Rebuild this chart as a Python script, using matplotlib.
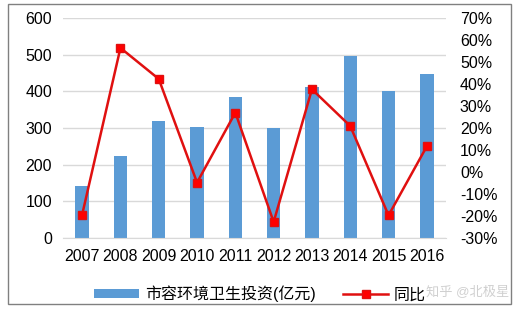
import numpy as np
import matplotlib.pyplot as plt
from matplotlib.patches import Rectangle

plt.rcParams['font.family'] = ['Liberation Sans', 'Noto Sans CJK SC', 'DejaVu Sans']

years = ['2007', '2008', '2009', '2010', '2011', '2012', '2013', '2014', '2015', '2016']
invest = [143, 224, 318, 303, 385, 299, 411, 496, 400, 446]
yoy = [-19.4, 56.4, 42.3, -4.8, 27.0, -22.7, 37.6, 20.9, -19.7, 11.7]

fig = plt.figure(figsize=(5.22, 3.09), dpi=100)
ax = fig.add_axes([63/522, 1-238/309, 383/522, 220/309])
x = np.arange(len(years))

ax.bar(x, invest, width=0.35, color='#5B9BD5', zorder=2, label='市容环境卫生投资(亿元)')
ax.set_ylim(0, 600)
ax.set_xlim(-0.5, 9.5)
ax.set_yticks(range(0, 601, 100))
ax.set_xticks(x)
ax.set_xticklabels(years)
ax.grid(axis='y', color='#D9D9D9', linewidth=1, zorder=0)
ax.set_axisbelow(True)
for s in ax.spines.values():
    s.set_visible(False)
ax.spines['bottom'].set_visible(True)
ax.spines['bottom'].set_color('#D9D9D9')
ax.tick_params(length=0, labelsize=11.5, pad=8)

ax2 = ax.twinx()
ax2.plot(x, yoy, color='#E01010', linewidth=1.8, marker='s', markersize=6,
         markerfacecolor='#FF0000', markeredgecolor='#E01010', zorder=3, label='同比')
ax2.set_ylim(-30, 70)
ax2.set_yticks(range(-30, 71, 10))
ax2.set_yticklabels([f'{v}%' for v in range(-30, 71, 10)])
for s in ax2.spines.values():
    s.set_visible(False)
ax2.tick_params(length=0, labelsize=11.5, pad=10)

h1, l1 = ax.get_legend_handles_labels()
h2, l2 = ax2.get_legend_handles_labels()
fig.legend(h1 + h2, l1 + l2, loc='center', bbox_to_anchor=(260/522, 1-294/309), ncol=2,
           frameon=False, fontsize=11.5, handlelength=2.8, handletextpad=0.35,
           columnspacing=1.75, handleheight=0.5)

fig.text(509/522, 1-292/309, '知乎 @北极星', color='#D0D0D0', fontsize=9.5,
         ha='right', va='center')

fig.patches.append(Rectangle((8/522, 1-304/309), 503/522, 300/309, transform=fig.transFigure,
                             fill=False, edgecolor='#808080', linewidth=1))

fig.savefig('out.png', dpi=100)
